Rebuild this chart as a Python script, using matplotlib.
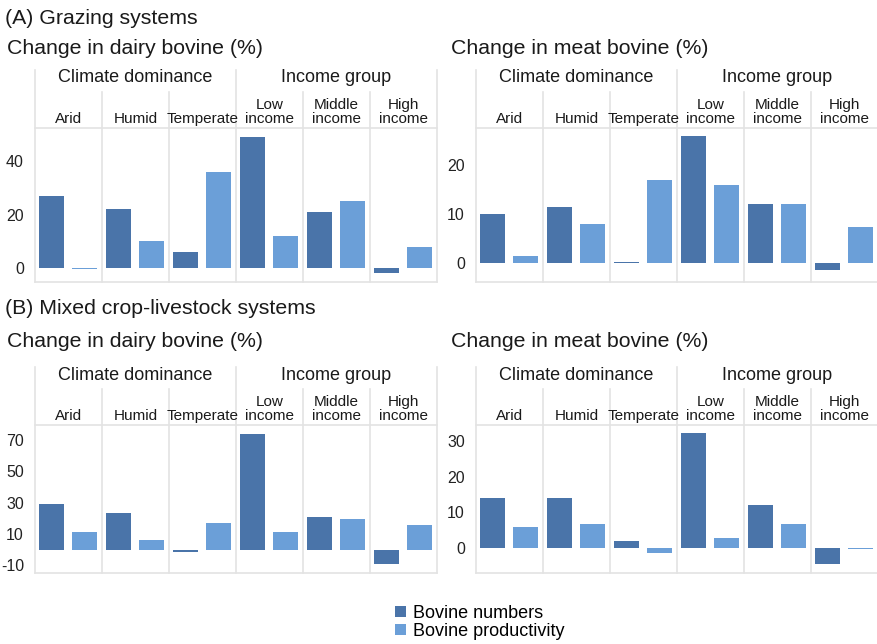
import numpy as np
import matplotlib
matplotlib.use("Agg")
import matplotlib.pyplot as plt
from matplotlib.transforms import blended_transform_factory

plt.rcParams['font.family'] = ['Liberation Sans', 'DejaVu Sans']

groups = ["Arid", "Humid", "Temperate", "Low\nincome", "Middle\nincome", "High\nincome"]
supergroups = ["Climate dominance", "Income group"]

# (A) grazing systems
graz_dairy_numbers = [27, 22, 6, 49, 21, -2]
graz_dairy_prod = [-0.3, 10, 36, 12, 25, 8]
graz_meat_numbers = [10, 11.3, 0.2, 26, 12, -1.6]
graz_meat_prod = [1.3, 8, 17, 16, 12, 7.2]

# (B) mixed crop-livestock systems
mixed_dairy_numbers = [29, 23.5, -1.5, 74, 21, -9]
mixed_dairy_prod = [11.3, 6, 16.7, 11.3, 19.6, 16]
mixed_meat_numbers = [14, 14, 1.9, 32.3, 12, -4.4]
mixed_meat_prod = [5.9, 6.7, -1.4, 2.8, 6.7, -0.2]

dark = "#4a74a9"
light = "#6b9fd8"
grid_c = "#e3e3e3"

W, H = 878, 644
fig = plt.figure(figsize=(W / 100, H / 100), dpi=100)


def fy(py):
    return 1 - py / H


def panel(x0, x1, y_top, y_bot, head_top, numbers, prod, ylim, yticks):
    ax = fig.add_axes([x0 / W, fy(y_bot), (x1 - x0) / W, (y_bot - y_top) / H])
    x = np.arange(len(groups))
    ax.bar(x - 0.25, numbers, 0.37, color=dark, label="Bovine numbers")
    ax.bar(x + 0.24, prod, 0.37, color=light, label="Bovine productivity")
    ax.set_xlim(-0.5, 5.5)
    ax.set_ylim(*ylim)
    ax.set_yticks(yticks)
    ax.set_yticklabels([str(t) for t in yticks], fontsize=11.5, color="#222222")
    ax.tick_params(axis="y", length=0, pad=8)
    ax.set_xticks([])
    for s in ax.spines.values():
        s.set_visible(False)
    ax.axhline(ylim[1], color=grid_c, lw=1.2, clip_on=False)
    ax.axhline(ylim[0], color=grid_c, lw=1.2, clip_on=False)

    tr = blended_transform_factory(ax.transData, fig.transFigure)
    # vertical separators
    for xv in [-0.5, 2.5, 5.5]:
        ax.plot([xv, xv], [fy(head_top), fy(y_bot)], color=grid_c, lw=1.2,
                transform=tr, clip_on=False)
    for xv in [0.5, 1.5, 3.5, 4.5]:
        ax.plot([xv, xv], [fy(head_top + 22), fy(y_bot)], color=grid_c, lw=1.2,
                transform=tr, clip_on=False)
    # header labels
    for i, sg in enumerate(supergroups):
        ax.text(1 + 3 * i, fy(head_top + 8), sg, transform=tr, ha="center",
                va="center", fontsize=13, color="#1a1a1a")
    for i, g in enumerate(groups):
        ax.text(i, fy(head_top + 56), g, transform=tr, ha="center", va="bottom",
                fontsize=11, linespacing=0.98, color="#1a1a1a")
    return ax


# row A
ax1 = panel(35, 437, 128, 282, 70, graz_dairy_numbers, graz_dairy_prod,
            (-5.2, 52.4), [0, 20, 40])
panel(476, 878, 128, 282, 70, graz_meat_numbers, graz_meat_prod,
      (-4, 27.6), [0, 10, 20])
# row B
panel(35, 437, 425, 573, 367, mixed_dairy_numbers, mixed_dairy_prod,
      (-15, 79.6), [-10, 10, 30, 50, 70])
panel(476, 878, 425, 573, 367, mixed_meat_numbers, mixed_meat_prod,
      (-7, 34.5), [0, 10, 20, 30])

fig.text(5 / W, fy(18), "(A) Grazing systems", fontsize=15.3, va="center", color="#1a1a1a")
fig.text(7 / W, fy(48), "Change in dairy bovine (%)", fontsize=15.3, va="center", color="#1a1a1a")
fig.text(451 / W, fy(48), "Change in meat bovine (%)", fontsize=15.3, va="center", color="#1a1a1a")
fig.text(5 / W, fy(308), "(B) Mixed crop-livestock systems", fontsize=15.3, va="center", color="#1a1a1a")
fig.text(7 / W, fy(342), "Change in dairy bovine (%)", fontsize=15.3, va="center", color="#1a1a1a")
fig.text(451 / W, fy(342), "Change in meat bovine (%)", fontsize=15.3, va="center", color="#1a1a1a")

handles, labels = ax1.get_legend_handles_labels()
fig.legend(handles, labels, loc="upper left", bbox_to_anchor=(395 / W, fy(605)),
           frameon=False, fontsize=13, handlelength=0.6, handleheight=0.6,
           handletextpad=0.4, labelspacing=0.05, borderpad=0, borderaxespad=0)

fig.savefig("out.png", dpi=100)
